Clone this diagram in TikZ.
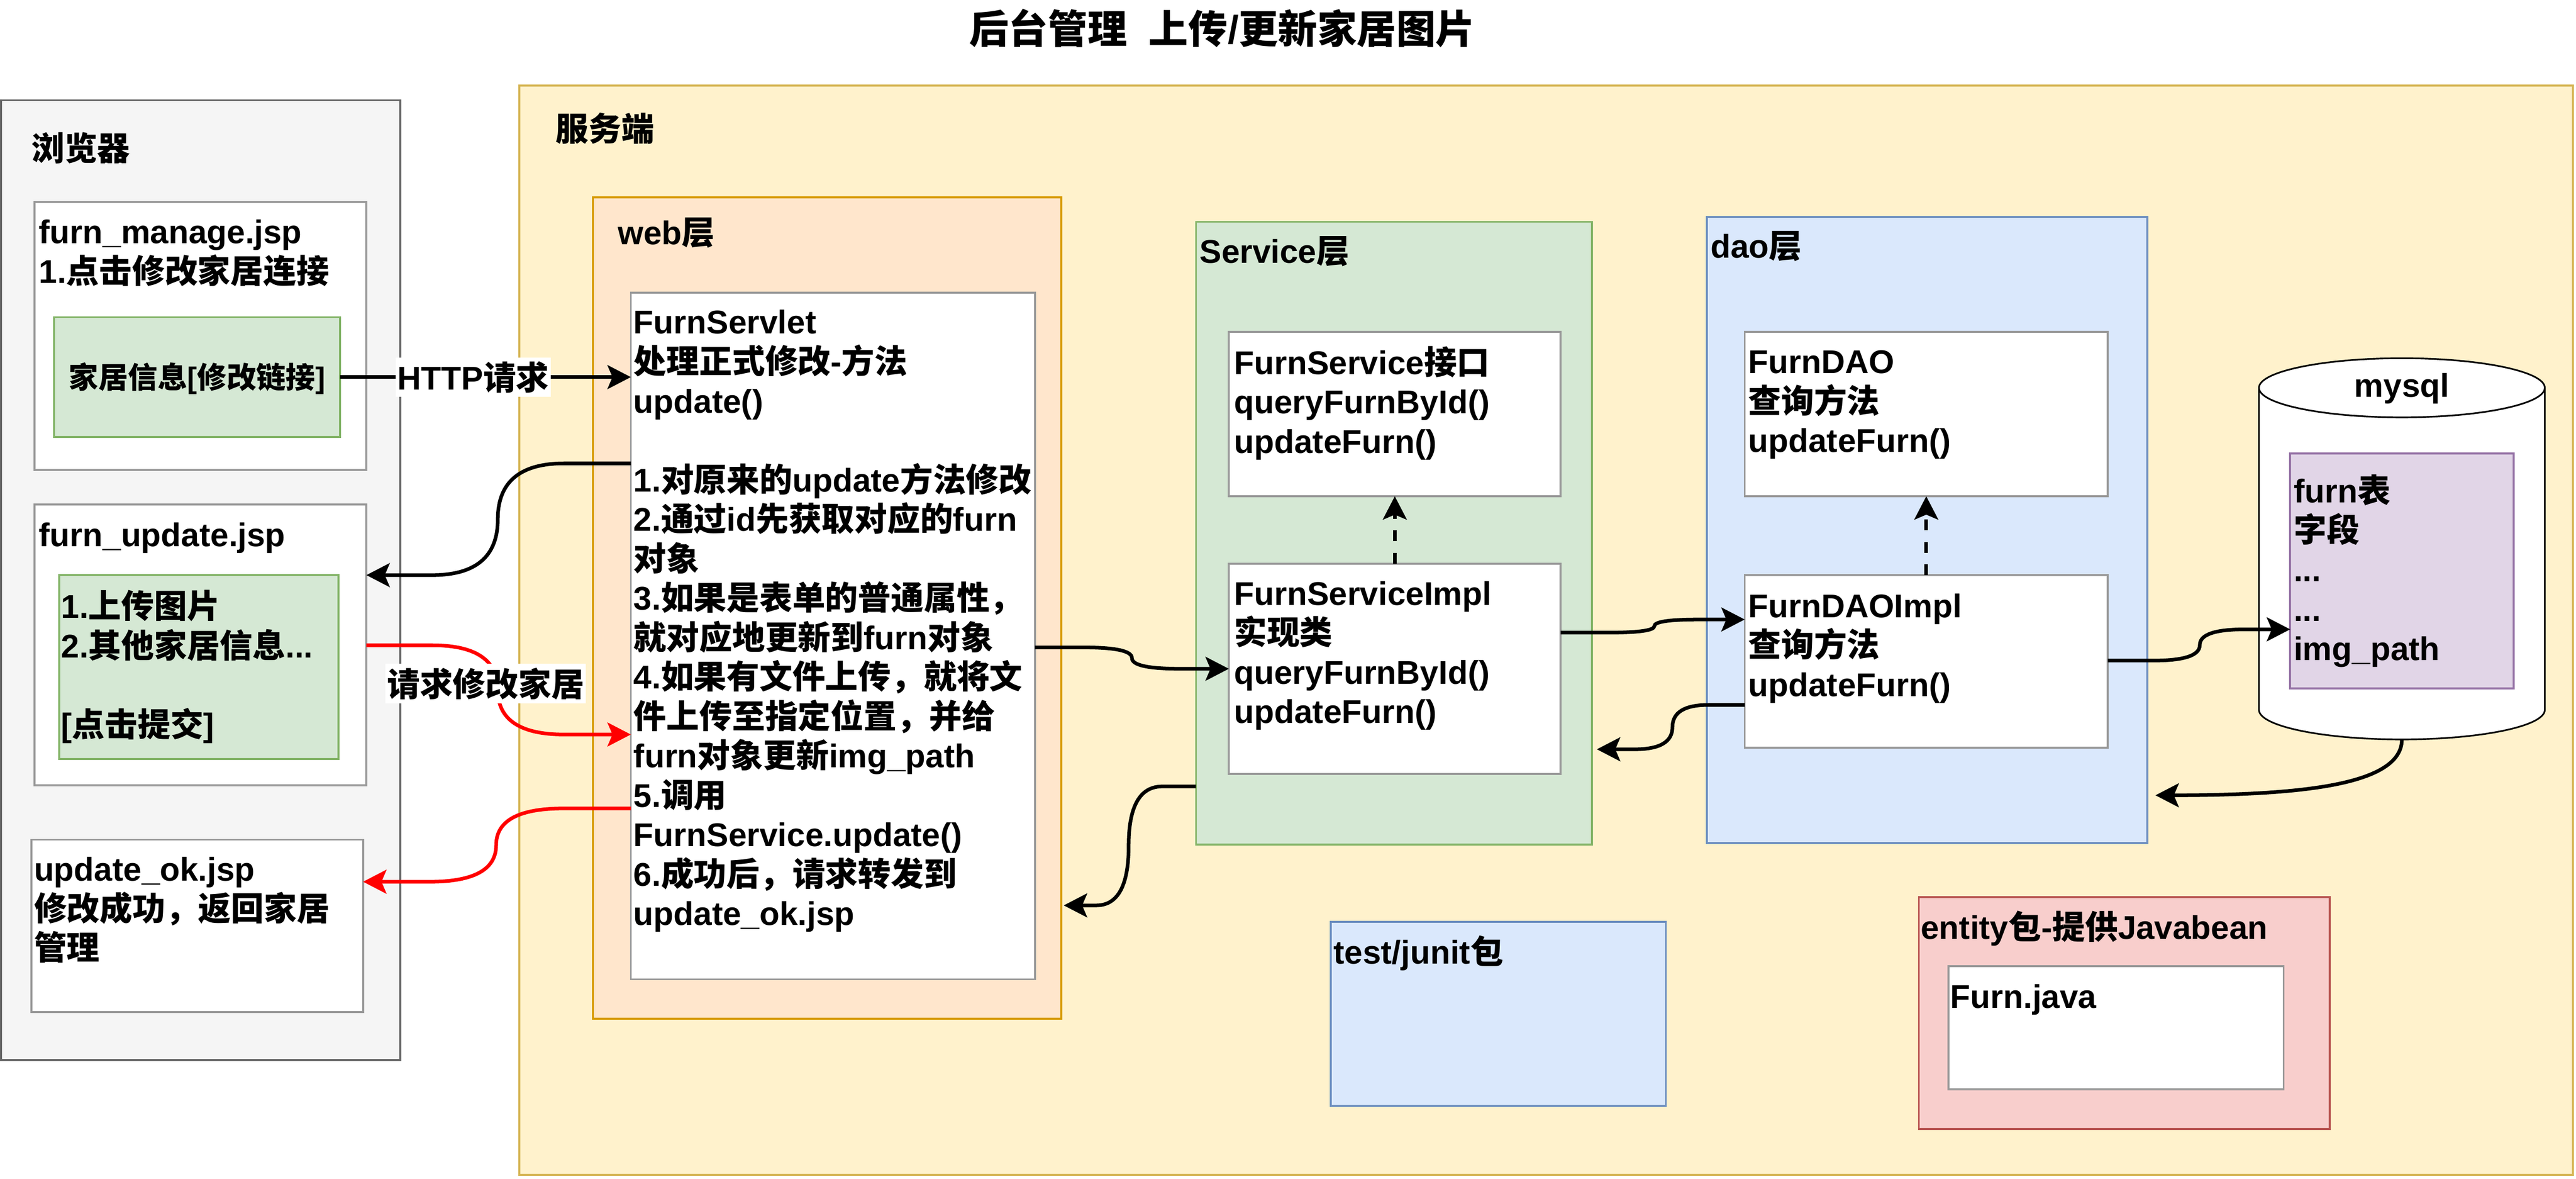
\documentclass[tikz,border=0pt]{standalone}
\usepackage{fontspec}
\setmainfont{Liberation Sans}
\newfontfamily\cjk{Noto Sans CJK SC}
\usetikzlibrary{arrows.meta,calc}
\XeTeXinterchartokenstate=1
\newXeTeXintercharclass\cjkcls
\makeatletter
\newcount\cjk@c
\def\cjk@range#1#2{\cjk@c=#1\relax\loop\XeTeXcharclass\cjk@c=\cjkcls\relax\ifnum\cjk@c<#2\relax\advance\cjk@c by 1\relax\repeat}
\cjk@range{"4E00}{"9FFF}
\cjk@range{"3000}{"303F}
\cjk@range{"FF00}{"FFEF}
\makeatother
\XeTeXinterchartoks 0 \cjkcls = {\cjk}
\XeTeXinterchartoks 4095 \cjkcls = {\cjk}
\XeTeXinterchartoks \cjkcls 0 = {\rmfamily}
\XeTeXinterchartoks \cjkcls 4095 = {\rmfamily}
\newcommand\fsa{\fontsize{20pt}{24pt}\selectfont}
\newcommand\fsb{\fontsize{18pt}{22pt}\selectfont}
\newcommand\fst{\fontsize{24pt}{29pt}\selectfont}
\newcommand\st{\rule{0pt}{19pt}}
\definecolor{brfill}{HTML}{F5F5F5}\definecolor{brdraw}{HTML}{666666}
\definecolor{srvfill}{HTML}{FFF2CC}\definecolor{srvdraw}{HTML}{D6B656}
\definecolor{webfill}{HTML}{FFE6CC}\definecolor{webdraw}{HTML}{D79B00}
\definecolor{grfill}{HTML}{D5E8D4}\definecolor{grdraw}{HTML}{82B366}
\definecolor{blfill}{HTML}{DAE8FC}\definecolor{bldraw}{HTML}{6C8EBF}
\definecolor{rdfill}{HTML}{F8CECC}\definecolor{rddraw}{HTML}{B85450}
\definecolor{pufill}{HTML}{E1D5E7}\definecolor{pudraw}{HTML}{9673A6}
\definecolor{wbdraw}{HTML}{999999}
\definecolor{arred}{HTML}{FF0000}
\tikzset{
 box/.style={draw, line width=1.2pt, inner sep=0pt, outer sep=0pt, anchor=north west},
 wbox/.style={box, fill=white, draw=wbdraw},
 txt/.style={anchor=north west, inner sep=0pt, align=left, font=\fsa\bfseries},
 conn/.style={line width=2.2pt, -{Stealth[length=14.2pt,width=14.5pt,inset=3pt]}},
 dconn/.style={conn, dash pattern=on 6.6pt off 7pt},
 lbl/.style={fill=white, inner xsep=1pt, inner ysep=0pt, minimum height=24pt, font=\fsa\bfseries},
 hvh/.style={to path={let \p1=(\tikztostart), \p2=(\tikztotarget) in
   -- ({(\x1+#1)/2},\y1)
   .. controls ({(\x1+#1)/2+(#1-\x1)/3},\y1) and (#1,{(\y1+\y2)/2+(\y1-\y2)/3}) .. (#1,{(\y1+\y2)/2})
   .. controls (#1,{(\y1+\y2)/2+(\y2-\y1)/3}) and ({(#1+\x2)/2+(#1-\x2)/3},\y2) .. ({(#1+\x2)/2},\y2)
   -- (\tikztotarget) \tikztonodes}}
}
\begin{document}
\begin{tikzpicture}[x=1pt,y=-1pt]
\fill[white] (0,0) rectangle (1568,717.4);
\useasboundingbox (0,0) rectangle (1568,717.4);
% title
\node[font=\fst\bfseries, anchor=base, inner sep=0pt] (title) at (744,26.5) {后台管理\hspace{13.3pt}上传/更新家居图片};
% containers
\node[box, fill=srvfill, draw=srvdraw, minimum width=1250pt, minimum height=663pt] (server) at (316,52) {};
\node[box, fill=brfill, draw=brdraw, minimum width=243pt, minimum height=584pt] (browser) at (0.6,61) {};
\node[txt] (browserlbl) at (19,78.6) {\st 浏览器};
\node[txt] (serverlbl) at (338,66.6) {\st 服务端};
% browser pages
\node[wbox, minimum width=202pt, minimum height=163pt] (fm) at (21,123) {};
\node[txt] (fmtxt) at (23.5,129) {\st furn\_manage.jsp\\1.点击修改家居连接};
\node[box, fill=grfill, draw=grdraw, minimum width=174pt, minimum height=73pt] (lnk) at (33,193) {};
\node[font=\fsb\bfseries, anchor=base, inner sep=0pt] (lnktxt) at (120,236.3) {家居信息[修改链接]};
\node[wbox, minimum width=202pt, minimum height=171pt] (fu) at (21,307) {};
\node[txt] (futxt) at (23.5,313.3) {\st furn\_update.jsp};
\node[box, fill=grfill, draw=grdraw, minimum width=170pt, minimum height=112pt] (form) at (36,350) {};
\node[txt] (formtxt) at (37,357) {\st 1.上传图片\\2.其他家居信息...\\[24pt]{[}点击提交]};
\node[wbox, minimum width=202pt, minimum height=105pt] (uok) at (19,511) {};
\node[txt] (uoktxt) at (20.5,517) {\st update\_ok.jsp\\修改成功，返回家居\\管理};
% web layer
\node[box, fill=webfill, draw=webdraw, minimum width=285pt, minimum height=500pt] (web) at (361,120) {};
\node[txt] (weblbl) at (376,129.6) {\st web层};
\node[wbox, minimum width=246pt, minimum height=418pt] (servlet) at (384,178) {};
\node[txt] (servlettxt) at (385.5,184) {\st FurnServlet\\处理正式修改-方法\\update()\\[24pt]1.对原来的update方法修改\\2.通过id先获取对应的furn\\对象\\3.如果是表单的普通属性，\\就对应地更新到furn对象\\4.如果有文件上传，就将文\\件上传至指定位置，并给\\furn对象更新img\_path\\5.调用\\FurnService.update()\\6.成功后，请求转发到\\update\_ok.jsp};
% service layer
\node[box, fill=grfill, draw=grdraw, minimum width=241pt, minimum height=379pt] (svc) at (728,135) {};
\node[txt] (svclbl) at (730,141) {\st Service层};
\node[wbox, minimum width=202pt, minimum height=100pt] (svcif) at (748,202) {};
\node[txt] (svciftxt) at (751,208.6) {\st FurnService接口\\queryFurnById()\\updateFurn()};
\node[wbox, minimum width=202pt, minimum height=128pt] (svcimpl) at (748,343) {};
\node[txt] (svcimpltxt) at (751,349) {\st FurnServiceImpl\\实现类\\queryFurnById()\\updateFurn()};
% dao layer
\node[box, fill=blfill, draw=bldraw, minimum width=268pt, minimum height=381pt] (dao) at (1039,132) {};
\node[txt] (daolbl) at (1041,137.6) {\st dao层};
\node[wbox, minimum width=221pt, minimum height=100pt] (daoif) at (1062,202) {};
\node[txt] (daoiftxt) at (1064,208) {\st FurnDAO\\查询方法\\updateFurn()};
\node[wbox, minimum width=221pt, minimum height=105pt] (daoimpl) at (1062,350) {};
\node[txt] (daoimpltxt) at (1064,356.6) {\st FurnDAOImpl\\查询方法\\updateFurn()};
% mysql
\node[inner sep=0pt, outer sep=0pt, minimum width=174pt, minimum height=232pt, anchor=north west] (mysql) at (1375,218) {};
\draw[line width=1pt, fill=white] (1375,236) -- (1375,432) arc[start angle=180, end angle=360, x radius=87pt, y radius=18pt] -- (1549,236) arc[start angle=0, end angle=180, x radius=87pt, y radius=18pt] -- cycle;
\draw[line width=1pt] (1375,236) arc[start angle=180, end angle=360, x radius=87pt, y radius=18pt];
\node[font=\fsa\bfseries, anchor=base, inner sep=0pt] (mysqllbl) at (1462,241.5) {mysql};
\node[box, fill=pufill, draw=pudraw, minimum width=136pt, minimum height=143pt] (ftbl) at (1394,276) {};
\node[txt] (ftbltxt) at (1396,286.7) {\st furn表\\字段\\...\\...\\img\_path};
% test & entity
\node[box, fill=blfill, draw=bldraw, minimum width=204pt, minimum height=112pt] (test) at (810,561) {};
\node[txt] (testtxt) at (811.5,567.5) {\st test/junit包};
\node[box, fill=rdfill, draw=rddraw, minimum width=250pt, minimum height=141pt] (entity) at (1168,546) {};
\node[txt] (entitytxt) at (1169,552.3) {\st entity包-提供Javabean};
\node[wbox, minimum width=204pt, minimum height=75pt] (furnjava) at (1186,588) {};
\node[txt] (furnjavatxt) at (1187,594.5) {\st Furn.java};
% connectors
\draw[conn] (lnk.east) -- (servlet.west |- lnk.east) node[lbl, pos=0.458] (lhttp) {HTTP请求};
\draw[conn] (servlet.west |- 0,282) to[hvh=303] (fu.east |- 0,350);
\draw[conn, arred] (fu.east |- 0,392.7) to[hvh=303] (servlet.west |- 0,447);
\draw[conn, arred] (servlet.west |- 0,492) to[hvh=302] (uok.east |- 0,536.6);
\draw[conn] (servlet.east |- 0,394) to[hvh=689] (svcimpl.west |- 0,407);
\draw[conn] (svcimpl.east |- 0,385) to[hvh=1007] (daoimpl.west |- 0,377);
\draw[conn] (daoimpl.west |- 0,429) to[hvh=1018] ($(svc.east |- 0,456)+(3,0)$);
\draw[conn] (svc.west |- 0,478.6) to[hvh=687] ($(web.east |- 0,551)+(1.5,0)$);
\draw[conn] (daoimpl.east |- 0,402) to[hvh=1339] (ftbl.west |- 0,383);
\draw[conn] (mysql.south) .. controls (1462,478) and (1400,484) .. (1320,484) -- ($(dao.east |- 0,484)+(5,0)$);
\draw[dconn] (svcimpl.north) -- (svcif.south);
\draw[dconn] (daoimpl.north) -- (daoif.south);
\node[lbl] (lreq) at (295.6,416) {请求修改家居};
\end{tikzpicture}
\end{document}
